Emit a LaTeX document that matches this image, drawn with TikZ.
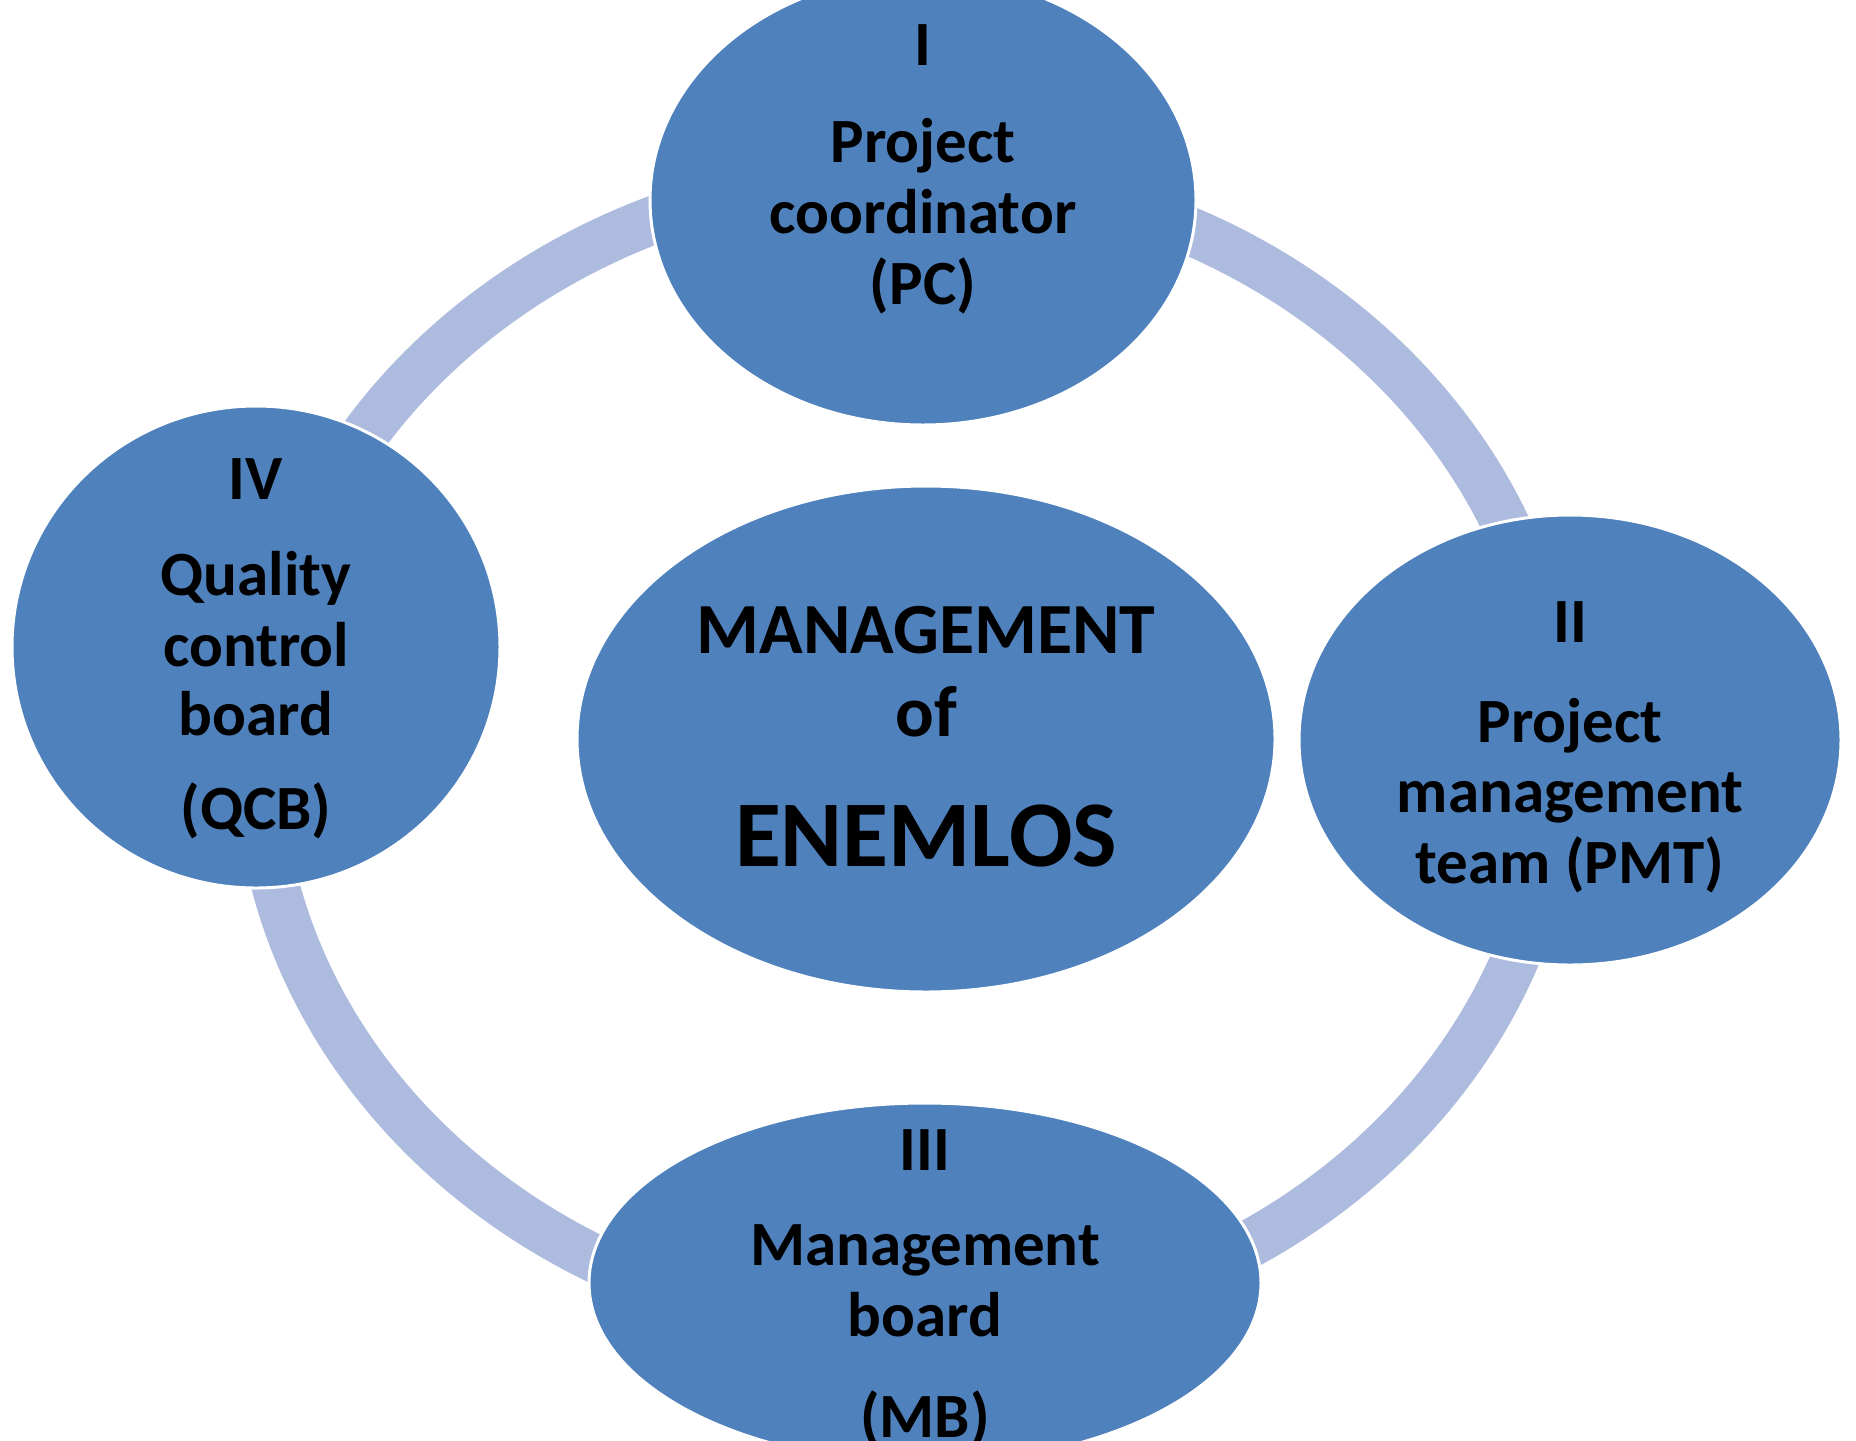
\documentclass[tikz,border=0pt]{standalone}
\usepackage{fontspec}
\setmainfont{Carlito}
\usepackage{xcolor}
\usepackage{tikz}
\usetikzlibrary{shapes.geometric, positioning}
\definecolor{bubbleblue}{RGB}{79,129,189}
\definecolor{ringblue}{RGB}{172,187,222}
\tikzset{
    bubblenode/.style = {draw=white, line width=1.5pt, fill=bubbleblue, ellipse, inner sep=0em},
    textnode/.style  = {draw=none, fill=none, rectangle, inner sep=0em, anchor=base, 
      font=\fontsize{31.5}{36}\selectfont\bfseries},
    titlenode/.style = {textnode, font=\fontsize{36}{42}\selectfont\bfseries},
    bigtitlenode/.style = {textnode, font=\fontsize{47}{56}\selectfont\bfseries},
    ringline/.style = {draw=ringblue, line width=24pt}
}
\begin{document}
\begin{tikzpicture}[x=0.5pt, y=-0.5pt]
    \useasboundingbox (0,0) rectangle (1856,1440);
    \clip (0,0) rectangle (1856,1440);

    % ring behind the bubbles
    \draw [ringline] (908,752) ellipse [x radius=325pt, y radius=289pt];

    \node [name=pc, bubblenode, minimum width=273pt, minimum height=225pt] at (923,200) {};
    \node [name=pmt, bubblenode, minimum width=271pt, minimum height=225pt] at (1570,740) {};
    \node [name=mb, bubblenode, minimum width=336pt, minimum height=180pt] at (925,1283) {};
    \node [name=qcb, bubblenode, minimum width=244pt, minimum height=241pt] at (256,647) {};
    \node [name=core, bubblenode, minimum width=349pt, minimum height=253pt] at (926,739) {};

    % I
    \node [name=pcnum, textnode] at ([yshift=67.5pt]pc.center) {I};
    \node [name=pca, textnode] at ([yshift=19pt]pc.center) {Project};
    \node [name=pcb, textnode] at ([yshift=-16.5pt]pc.center) {coordinator};
    \node [name=pcc, textnode] at ([yshift=-52pt]pc.center) {(PC)};

    % II
    \node [name=pmtnum, textnode] at ([yshift=49pt]pmt.center) {II};
    \node [name=pmta, textnode] at ([yshift=-1pt]pmt.center) {Project};
    \node [name=pmtb, textnode] at ([yshift=-36pt]pmt.center) {management};
    \node [name=pmtc, textnode] at ([yshift=-71.5pt]pmt.center) {team (PMT)};

    % III
    \node [name=mbnum, textnode] at ([yshift=56.5pt]mb.center) {III};
    \node [name=mba, textnode] at ([yshift=9pt]mb.center) {Management};
    \node [name=mbb, textnode] at ([yshift=-26.5pt]mb.center) {board};
    \node [name=mbc, textnode] at ([yshift=-77pt]mb.center) {(MB)};

    % IV
    \node [name=qcbnum, textnode] at ([yshift=74pt]qcb.center) {IV};
    \node [name=qcba, textnode] at ([yshift=26pt]qcb.center) {Quality};
    \node [name=qcbb, textnode] at ([yshift=-9.5pt]qcb.center) {control};
    \node [name=qcbc, textnode] at ([yshift=-44pt]qcb.center) {board};
    \node [name=qcbd, textnode] at ([yshift=-91pt]qcb.center) {(QCB)};

    % centre
    \node [name=corea, titlenode] at ([yshift=43pt]core.center) {MANAGEMENT};
    \node [name=coreb, titlenode] at ([yshift=1.5pt]core.center) {of};
    \node [name=corec, bigtitlenode] at ([yshift=-63.5pt]core.center) {ENEMLOS};
\end{tikzpicture}
\end{document}
